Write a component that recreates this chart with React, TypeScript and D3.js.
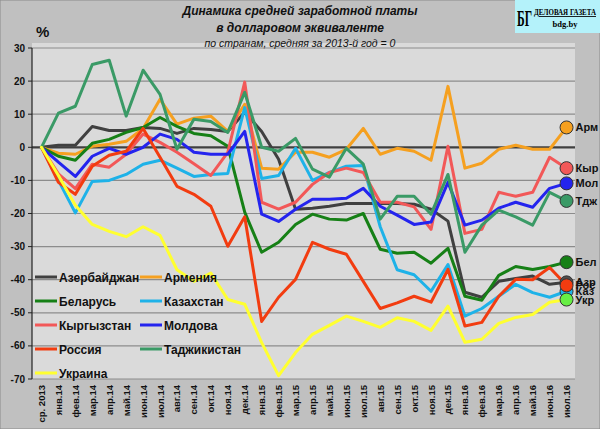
import React from "react";
import * as d3 from "d3";

const categories = ["ср. 2013","янв.14","фев.14","мар.14","апр.14","май.14","июн.14","июл.14","авг.14","сен.14","окт.14","ноя.14","дек.14","янв.15","фев.15","мар.15","апр.15","май.15","июн.15","июл.15","авг.15","сен.15","окт.15","ноя.15","дек.15","янв.16","фев.16","мар.16","апр.16","май.16","июн.16","июл.16"];

const azerbaijan = [0,0.6,0.6,6.3,5.1,5.1,6,5.7,4.2,5.7,5.4,4.8,10.6,4.8,-3.6,-18.7,-18.4,-17.8,-17,-17,-17,-17,-17.2,-18.7,-22.3,-43.8,-45.3,-40.5,-39.6,-38.9,-41.4,-40.8];
const armenia = [0,-1.8,-2.1,0.3,0.9,1.8,5.7,14.5,7,8.8,9.4,4.8,13,-6.3,-6.6,-1.5,-1.5,-3,-0.6,5.7,-2.1,-0.3,-1.2,-3.9,18.4,-6.3,-4.8,-0.6,0.6,-0.6,-0.6,6];
const belarus = [0,-2.7,-3.9,1.2,2.4,4.5,6,9,6.3,4.2,3.5,0.3,-19.6,-31.7,-28.7,-23.3,-20.2,-21.7,-22,-20,-30.8,-32,-31.7,-35,-30.5,-45,-46.2,-38.7,-36,-36.9,-36,-34.7];
const kazakhstan = [0,-10,-19.8,-10.3,-10,-8.2,-5.1,-3.9,-6.3,-8.8,-8.2,-7.9,12,-9.4,-8.5,-0.3,-10,-7.6,-5.7,-5.5,-24,-37,-38.5,-43.5,-35.4,-51,-48.7,-45,-41.4,-43.9,-45.3,-43.5];
const kyrgyzstan = [0,-8,-12.5,-5.1,-6,-2.1,4,1.5,-1.5,-5,-8.5,-1.5,19.7,-16.6,-18.7,-16.6,-11.2,-7.6,-6.3,-7.6,-16.6,-16.6,-18,-24.8,0.3,-26,-24.8,-13.6,-14.8,-13.6,-3,-6.3];
const moldova = [0,-4.5,-8.8,-2.7,-0.3,-2.1,0,4,2.4,-1.5,-2.1,-2.1,4.8,-20.2,-22.4,-18.7,-15.7,-15.7,-15.4,-12.4,-17.8,-20.5,-23.3,-22.6,-10.6,-23.5,-22,-18.4,-16.6,-18.1,-12.4,-10.9];
const russia = [0,-10.6,-14.2,-5.7,-2.4,-1.2,5.7,-3,-11.8,-14.2,-17.8,-29.9,-21,-52.6,-45.3,-39.9,-28.7,-30.8,-32.3,-40.5,-48.7,-47,-45,-46.8,-36.9,-54,-52.9,-45,-39.9,-40,-36.3,-41.7];
const tajikistan = [0,10.3,12.4,25,26.3,9.4,23.3,16,-0.6,8.5,7.8,4.5,16.6,0,-1.2,2.7,-6.6,-9,-0.3,-5.1,-21.7,-14.8,-14.8,-20.2,-8.2,-31.7,-23.5,-19,-21,-23.5,-13.6,-16.2];
const ukraine = [0,-8.5,-17.5,-23.3,-25.4,-27,-24,-26.6,-37,-40.5,-38,-46,-47.4,-59,-69,-62,-56.5,-53.8,-51,-52.6,-54.4,-51.5,-52.6,-55.3,-48,-58.9,-58,-53.2,-51.4,-50.5,-46.8,-46];

const seriesNames = ["Азербайджан","Армения","Беларусь","Казахстан","Кыргызстан","Молдова","Россия","Таджикистан","Украина"];
const seriesValues = [azerbaijan, armenia, belarus, kazakhstan, kyrgyzstan, moldova, russia, tajikistan, ukraine];
const seriesColors = ["#404040","#f5a020","#168016","#1eb2e8","#f25858","#2424ee","#f23c10","#3a9a66","#ffff30"];
const shortNames = ["Азр","Арм","Бел","Каз","Кыр","Мол","Рос","Тдж","Укр"];
const markerColors = ["#505050","#f5a020","#168016","#1eb2e8","#f25858","#2424ee","#f23c10","#3a9a66","#66ee44"];
const yTicks = [30,20,10,0,-10,-20,-30,-40,-50,-60,-70];

const W = 600, H = 429;
const FONT = "'Liberation Sans', Arial, sans-serif";

export default function App() {
  const x = d3.scalePoint<string>().domain(categories).range([33, 575]).padding(0.5);
  const y = d3.scaleLinear().domain([-70, 30]).range([379, 48]);
  const line = d3.line<number>().x((_, i) => x(categories[i]) as number).y(d => y(d));

  const legendRows = [277, 301, 325, 349, 373];
  const legendCols = [33, 138];

  const lastX = x(categories[categories.length - 1]) as number;

  return (
    <svg width={W} height={H} style={{ position: "absolute", left: 0, top: 0 }} fontFamily={FONT}>
      <rect x={0} y={0} width={W} height={H} fill="#c0c0c0" stroke="#8a8a8a" strokeWidth={1} />
      <rect x={32} y={43} width={543} height={336} fill="#dadada" />
      {yTicks.map(t => (
        <line key={t} x1={32} x2={575} y1={y(t)} y2={y(t)}
          stroke={t === 0 ? "#404040" : "#8c8c8c"} strokeWidth={t === 0 ? 2.2 : 1.2} />
      ))}
      <line x1={32} x2={32} y1={48} y2={379} stroke="#222" strokeWidth={1.2} />
      {yTicks.map(t => (
        <g key={"yt" + t}>
          <line x1={28} x2={32} y1={y(t)} y2={y(t)} stroke="#222" strokeWidth={1} />
          <text x={25} y={y(t) + 3.5} textAnchor="end" fontSize={10} fontWeight="bold" fill="#111">{t}</text>
        </g>
      ))}
      {categories.map(c => (
        <text key={c} transform={`translate(${(x(c) as number) + 3.5},385) rotate(-90)`} textAnchor="end"
          fontSize={9.5} fontWeight="bold" fill="#111">{c}</text>
      ))}
      {seriesValues.map((vals, k) => (
        <path key={seriesNames[k]} d={line(vals) || ""} fill="none" stroke={seriesColors[k]}
          strokeWidth={3} strokeLinejoin="round" strokeLinecap="round" />
      ))}
      {seriesNames.map((n, k) => {
        const row = Math.floor(k / 2), col = k % 2;
        const lx = legendCols[col], ly = legendRows[row];
        return (
          <g key={"lg" + n}>
            <line x1={lx + 2} x2={lx + 24} y1={ly} y2={ly} stroke={seriesColors[k]} strokeWidth={3} />
            <text x={lx + 26} y={ly + 4.5} fontSize={12} fontWeight="bold" fill="#111">{n}</text>
          </g>
        );
      })}
      {seriesValues.map((vals, k) => {
        const v = vals[vals.length - 1];
        return (
          <g key={"mk" + k}>
            <circle cx={lastX} cy={y(v)} r={6.5} fill={markerColors[k]} stroke="#333" strokeWidth={1} />
            <text x={lastX + 9} y={y(v) + 4} fontSize={11} fontWeight="bold" fill="#111">{shortNames[k]}</text>
          </g>
        );
      })}
      <text x={300} y={15} textAnchor="middle" fontSize={12} fontWeight="bold" fontStyle="italic" fill="#111">Динамика средней заработной платы</text>
      <text x={300} y={32} textAnchor="middle" fontSize={12} fontWeight="bold" fontStyle="italic" fill="#111">в долларовом эквиваленте</text>
      <text x={300} y={47} textAnchor="middle" fontSize={10.5} fontStyle="italic" fill="#111">по странам, средняя за 2013-й год = 0</text>
      <text x={36} y={37} fontSize={15} fontWeight="bold" fill="#111">%</text>
      <rect x={515} y={0} width={85} height={33} fill="#b4f2fa" />
      <text x={517} y={26} fontFamily="'Liberation Serif', serif" fontSize={24} fontWeight="bold" fill="#000" textLength={15} lengthAdjust="spacingAndGlyphs">БГ</text>
      <text x={565} y={15} textAnchor="middle" fontFamily="'Liberation Serif', serif" fontSize={8.5} fontWeight="bold" fill="#000" textDecoration="underline" textLength={62} lengthAdjust="spacingAndGlyphs">ДЕЛОВАЯ ГАЗЕТА</text>
      <text x={565} y={27} textAnchor="middle" fontFamily="'Liberation Serif', serif" fontSize={8.5} fontWeight="bold" fill="#000">bdg.by</text>
    </svg>
  );
}
